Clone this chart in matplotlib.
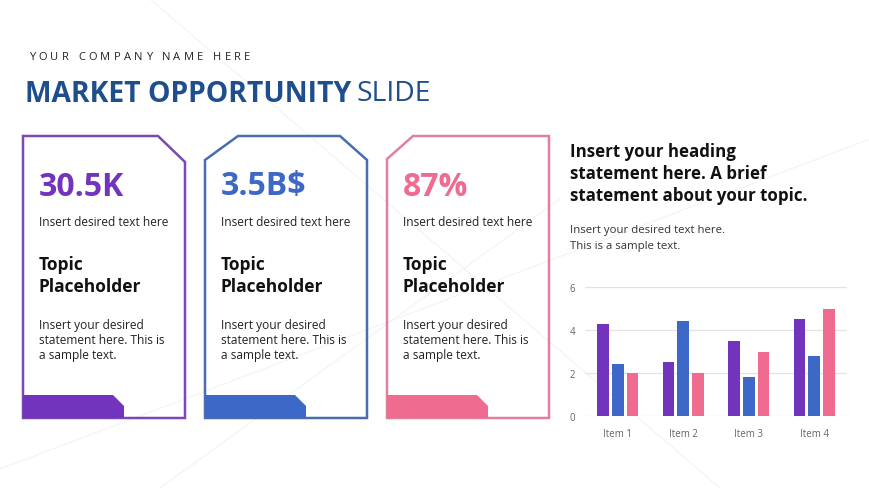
import numpy as np
import matplotlib.pyplot as plt
from matplotlib.patches import Polygon

# ---- Data ----
items = ['Item 1', 'Item 2', 'Item 3', 'Item 4']
series_a = [4.3, 2.5, 3.5, 4.5]
series_b = [2.4, 4.4, 1.8, 2.8]
series_c = [2.0, 2.0, 3.0, 5.0]
y_ticks = [0, 2, 4, 6]

card_values = ['30.5K', '3.5B$', '87%']
card_colors = ['#7233bd', '#3d68c8', '#ef6b8f']
card_edges = ['#7d48b3', '#4a6db0', '#e0809c']

company = 'YOUR COMPANY NAME HERE'
title_bold = 'MARKET OPPORTUNITY'
title_light = 'SLIDE'
heading = ['Insert your heading', 'statement here. A brief', 'statement about your topic.']
subtext = ['Insert your desired text here.', 'This is a sample text.']

W, H = 870, 489
fig = plt.figure(figsize=(W / 100, H / 100), dpi=100)
bg = fig.add_axes([0, 0, 1, 1])
bg.set_xlim(0, W)
bg.set_ylim(H, 0)
bg.axis('off')

# faint watermark lines
for (x1, y1, x2, y2) in [(150, 0, 720, 489), (0, 470, 870, 140), (160, 489, 560, 200)]:
    bg.plot([x1, x2], [y1, y2], color='#f3f3f3', lw=0.8, zorder=0)

# ---- Header ----
fig.canvas.draw()
renderer = fig.canvas.get_renderer()
x = 29
for ch in company:
    t = bg.text(x, 57, ch, fontsize=8.0, color='#222222', family='Open Sans', va='center')
    w = t.get_window_extent(renderer).width
    x += (w if ch != ' ' else 3) + 3.3

t = bg.text(25, 94, title_bold, fontsize=20.3, fontweight='bold', color='#1f4e8c',
            family='Open Sans', va='center')
bb = t.get_window_extent(renderer)
bg.text(25 + bb.width + 5, 94, title_light, fontsize=20.3, color='#1f4e8c',
        family='Open Sans', va='center')

# ---- Cards ----
card_x = [23, 205, 387]
cw = 162
top, bottom = 137, 419
for i, x0 in enumerate(card_x):
    x1 = x0 + cw
    if i == 0:
        pts = [(x0, top), (x1 - 27, top), (x1, top + 26), (x1, bottom), (x0, bottom)]
    elif i == 1:
        pts = [(x0, top + 24), (x0 + 33, top), (x1 - 27, top), (x1, top + 24), (x1, bottom), (x0, bottom)]
    else:
        pts = [(x0, top + 23), (x0 + 26, top), (x1, top), (x1, bottom), (x0, bottom)]
    bg.add_patch(Polygon(pts, closed=True, fill=False, edgecolor=card_edges[i], lw=1.8, zorder=2))
    band = [(x0, 396), (x0 + 90, 396), (x0 + 101, 407), (x0 + 101, bottom), (x0, bottom)]
    bg.add_patch(Polygon(band, closed=True, facecolor=card_colors[i], edgecolor='none', zorder=3))

    tx = x0 + 16
    bg.text(tx, 187, card_values[i], fontsize=23, fontweight='bold', color=card_colors[i],
            family='Open Sans', va='center')
    bg.text(tx, 222, 'Insert desired text here', fontsize=8.6, color='#222222',
            family='Open Sans', va='center')
    bg.text(tx, 265, 'Topic', fontsize=12.5, fontweight='bold', color='#111111',
            family='Open Sans', va='center')
    bg.text(tx, 287, 'Placeholder', fontsize=12.5, fontweight='bold', color='#111111',
            family='Open Sans', va='center')
    for k, line in enumerate(['Insert your desired', 'statement here. This is', 'a sample text.']):
        bg.text(tx, 325 + k * 15.5, line, fontsize=8.6, color='#222222',
                family='Open Sans', va='center')

# ---- Right heading ----
for k, line in enumerate(heading):
    bg.text(570, 152 + k * 22, line, fontsize=12.2, fontweight='bold', color='#111111',
            family='Open Sans', va='center')
for k, line in enumerate(subtext):
    bg.text(570, 230 + k * 16, line, fontsize=8.2, color='#333333',
            family='Open Sans', va='center')

# ---- Bar chart ----
ax = fig.add_axes([585 / W, 1 - 417 / H, (847 - 585) / W, (417 - 288) / H])
ax.patch.set_alpha(0)
xs = np.arange(len(items))
bw = 0.18
step = 0.225
ax.bar(xs - step, series_a, bw, color=card_colors[0], zorder=3)
ax.bar(xs, series_b, bw, color=card_colors[1], zorder=3)
ax.bar(xs + step, series_c, bw, color=card_colors[2], zorder=3)
ax.set_xlim(-0.5, 3.5)
ax.set_ylim(0, 6)
ax.set_yticks(y_ticks)
ax.set_xticks(xs)
ax.set_xticklabels(items)
ax.grid(axis='y', color='#e3e3e3', lw=0.9, zorder=0)
for s in ax.spines.values():
    s.set_visible(False)
ax.tick_params(length=0, labelsize=7, labelcolor='#666666', pad=9)
ax.tick_params(axis='y', pad=7)
for lab in ax.get_xticklabels() + ax.get_yticklabels():
    lab.set_family('Open Sans')

fig.savefig('out.png', dpi=100)
